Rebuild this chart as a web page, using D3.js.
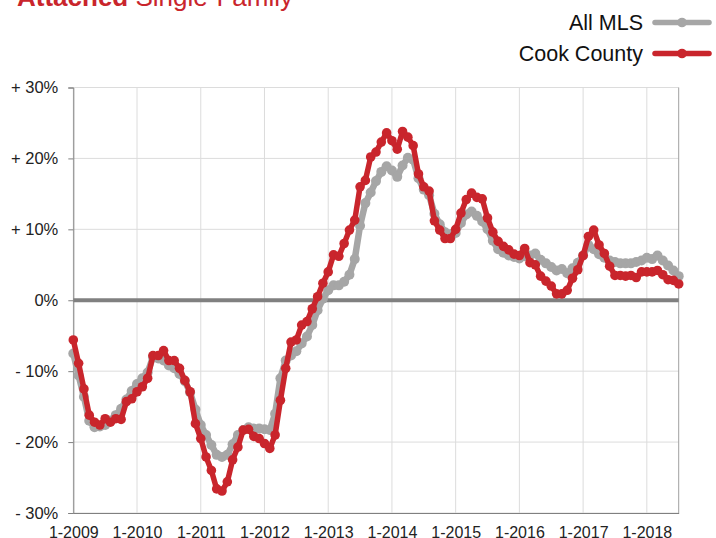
<!DOCTYPE html>
<html>
<head>
<meta charset="utf-8">
<script src="https://cdn.jsdelivr.net/npm/d3@7"></script>
<style>
  body { margin: 0; background: #fff; }
  svg { display: block; font-family: "Liberation Sans", Arial, sans-serif; }
</style>
</head>
<body>
<div id="chart"></div>
<script>
// x tick labels, one every 12 months starting 1-2009
var yearLabels = ["1-2009", "1-2010", "1-2011", "1-2012", "1-2013", "1-2014", "1-2015", "1-2016", "1-2017", "1-2018"];
var yTicks = [-30, -20, -10, 0, 10, 20, 30];
var seriesNames = ["All MLS", "Cook County"];

// monthly % change, 1-2009 .. 7-2018
var allMLS = [
  -7.5, -10.6, -13.6, -17.0, -17.9, -17.8, -17.6, -17.0, -16.2, -15.3, -14.0, -12.8,
  -11.8, -11.0, -10.2, -8.0, -8.2, -8.5, -9.2, -9.6, -10.4, -11.4, -13.0, -15.4,
  -17.6, -19.0, -20.4, -21.8, -22.1, -21.8, -20.3, -19.0, -18.3, -17.9, -18.1, -18.1,
  -18.2, -18.3, -16.0, -11.0, -8.5, -7.8, -7.2, -6.1, -5.1, -3.5, -1.4, 0.2,
  1.4, 2.1, 2.1, 2.6, 3.6, 5.8, 10.5, 13.7, 15.2, 16.8, 18.1, 18.9,
  18.3, 17.4, 19.0, 20.1, 19.8, 17.2, 15.6, 14.8, 12.2, 10.7, 9.6, 9.3,
  9.5, 10.9, 12.1, 12.5, 11.9, 11.1, 10.0, 8.4, 7.2, 6.7, 6.3, 6.1,
  5.9, 6.2, 6.3, 6.6, 5.7, 5.2, 4.7, 4.2, 4.4, 3.8, 4.5, 5.3,
  6.3, 7.8, 7.2, 6.5, 6.0, 5.6, 5.4, 5.2, 5.2, 5.2, 5.4, 5.6,
  6.0, 5.8, 6.3, 5.6, 4.9, 4.2, 3.4
];
var cookCounty = [
  -5.6, -8.9, -12.5, -16.2, -17.2, -17.6, -16.7, -17.2, -16.7, -16.8, -14.3, -13.9,
  -12.9, -12.2, -11.0, -7.8, -7.8, -7.1, -8.5, -8.5, -9.6, -11.3, -12.9, -17.4,
  -19.5, -22.1, -24.0, -26.6, -26.9, -25.6, -22.5, -20.7, -18.3, -18.2, -19.2, -19.5,
  -20.2, -20.9, -19.0, -14.1, -9.6, -5.9, -5.6, -3.5, -3.0, -1.2, 0.5, 2.4,
  4.0, 6.4, 6.2, 8.0, 9.9, 11.3, 16.0, 16.9, 20.2, 20.9, 22.3, 23.6,
  22.5, 21.3, 23.8, 23.0, 21.8, 17.8, 16.0, 15.4, 11.2, 9.9, 8.7, 8.7,
  10.0, 12.3, 14.2, 15.1, 14.5, 14.3, 11.6, 9.6, 8.3, 7.6, 7.1, 6.5,
  6.3, 7.3, 5.3, 5.0, 3.4, 2.7, 2.0, 0.9, 0.9, 1.4, 3.1, 4.3,
  6.3, 9.0, 9.9, 7.8, 6.6, 4.8, 3.5, 3.5, 3.4, 3.5, 3.2, 4.0,
  4.0, 4.0, 4.2, 3.6, 2.9, 2.8, 2.3
];

var W = 716, H = 538;
var margin = {top: 87.5, right: 37.3, bottom: 25, left: 73.3},
    width = W - margin.left - margin.right,
    height = H - margin.top - margin.bottom;

var grey = "#a6a6a6", red = "#c9252c";

var x = d3.scaleLinear().domain([0, allMLS.length - 1]).range([0, width]);
var y = d3.scaleLinear().domain([-30, 30]).range([height, 0]);

var svg = d3.select("#chart").append("svg")
    .attr("width", W)
    .attr("height", H);

// title (runs off the top of the picture)
var title = svg.append("text")
    .attr("x", 17)
    .attr("y", 6)
    .style("font-size", "26px")
    .style("fill", red);
title.append("tspan").style("font-weight", "bold").text("Attached");
title.append("tspan").text(" Single-Family");

var g = svg.append("g")
    .attr("transform", "translate(" + margin.left + "," + margin.top + ")");

// gridlines
g.append("g").selectAll("line")
    .data(yTicks)
    .enter().append("line")
    .attr("x1", 0).attr("x2", width)
    .attr("y1", function(d) { return y(d); })
    .attr("y2", function(d) { return y(d); })
    .style("stroke", "#dcdcdc");

g.append("g").selectAll("line")
    .data(yearLabels)
    .enter().append("line")
    .attr("x1", function(d, i) { return x(i * 12); })
    .attr("x2", function(d, i) { return x(i * 12); })
    .attr("y1", 0).attr("y2", height)
    .style("stroke", "#dcdcdc");

// right border
g.append("line")
    .attr("x1", width).attr("x2", width)
    .attr("y1", 0).attr("y2", height)
    .style("stroke", "#a0a0a0");

// zero line
g.append("line")
    .attr("x1", 0).attr("x2", width)
    .attr("y1", y(0)).attr("y2", y(0))
    .style("stroke", "#808080")
    .style("stroke-width", 4);

// Y axis
var yAxis = g.append("g")
    .call(d3.axisLeft(y).tickValues(yTicks).tickSize(5).tickPadding(10)
      .tickFormat(function(d) {
        if (d > 0) return "+ " + d + "%";
        if (d < 0) return "- " + Math.abs(d) + "%";
        return "0%";
      }));
yAxis.select(".domain").style("stroke", "#808080");
yAxis.selectAll(".tick line").style("stroke", "#808080");
yAxis.selectAll("text")
    .style("font-size", "16.5px")
    .style("font-family", "'Liberation Sans', Arial, sans-serif")
    .style("fill", "#222");

// X axis
var xAxis = g.append("g")
    .attr("transform", "translate(0," + height + ")")
    .call(d3.axisBottom(x)
      .tickValues(yearLabels.map(function(d, i) { return i * 12; }))
      .tickSize(0).tickPadding(14)
      .tickFormat(function(d) { return yearLabels[d / 12]; }));
xAxis.select(".domain").style("stroke", "#808080");
xAxis.selectAll("text")
    .style("font-size", "16px")
    .style("font-family", "'Liberation Sans', Arial, sans-serif")
    .style("fill", "#222");

// series
var line = d3.line()
    .x(function(d, i) { return x(i); })
    .y(function(d) { return y(d); });

function drawSeries(data, color, lw, r) {
  g.append("path")
      .datum(data)
      .attr("d", line)
      .style("fill", "none")
      .style("stroke", color)
      .style("stroke-width", lw)
      .style("stroke-linejoin", "round");
  g.append("g").selectAll("circle")
      .data(data)
      .enter().append("circle")
      .attr("cx", function(d, i) { return x(i); })
      .attr("cy", function(d) { return y(d); })
      .attr("r", r)
      .style("fill", color);
}
drawSeries(allMLS, grey, 6.5, 5);
drawSeries(cookCounty, red, 5.5, 4.8);

// legend
var legend = svg.append("g").selectAll("g")
    .data(seriesNames)
    .enter().append("g")
    .attr("transform", function(d, i) { return "translate(0," + (22.5 + i * 31) + ")"; });
legend.append("text")
    .attr("x", 643)
    .attr("dy", "0.35em")
    .style("text-anchor", "end")
    .style("font-size", "21.5px")
    .style("fill", "#111")
    .text(function(d) { return d; });
legend.append("line")
    .attr("x1", 655).attr("x2", 709)
    .style("stroke", function(d, i) { return i ? red : grey; })
    .style("stroke-width", 5.5)
    .style("stroke-linecap", "round");
legend.append("circle")
    .attr("cx", 682)
    .attr("r", 4.8)
    .style("fill", function(d, i) { return i ? red : grey; });
</script>
</body>
</html>
